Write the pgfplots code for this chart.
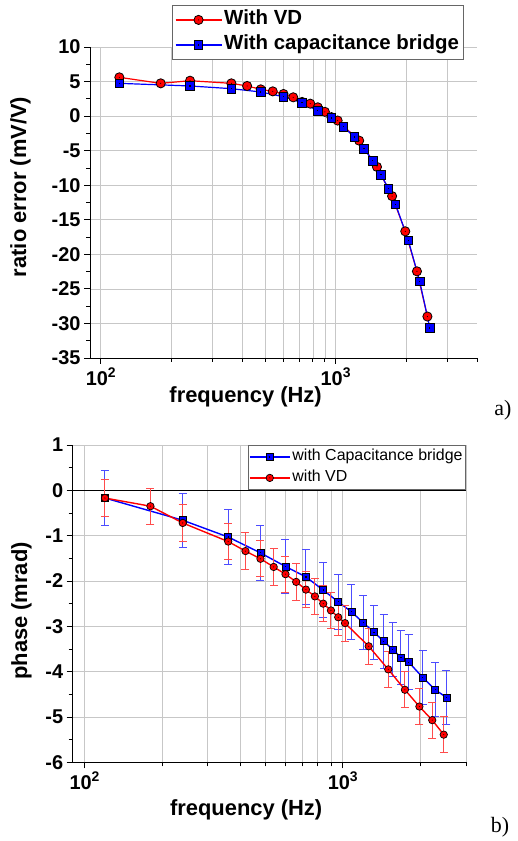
\documentclass[border=0pt]{standalone}
\usepackage{fontspec}
\setmainfont{Liberation Sans}
\newfontfamily\serif{Liberation Serif}
\usepackage{pgfplots}
\pgfplotsset{compat=1.18}

% Origin-style marks: filled shape with a small dark centre
\pgfdeclareplotmark{dcirc}{%
  \pgfpathcircle{\pgfpointorigin}{\pgfplotmarksize}\pgfusepathqfillstroke
  \pgfscope\pgfsetfillcolor{black}\pgfpathcircle{\pgfpointorigin}{0.55pt}\pgfusepathqfill\endpgfscope}
\pgfdeclareplotmark{dsq}{%
  \pgfpathrectangle{\pgfpoint{-\pgfplotmarksize}{-\pgfplotmarksize}}{\pgfpoint{2\pgfplotmarksize}{2\pgfplotmarksize}}\pgfusepathqfillstroke
  \pgfscope\pgfsetfillcolor{black}\pgfpathrectangle{\pgfpoint{-0.6pt}{-0.6pt}}{\pgfpoint{1.2pt}{1.2pt}}\pgfusepathqfill\endpgfscope}

\newcommand\tp[1]{10\raisebox{0.8ex}{\fontsize{14}{14}\selectfont #1}}

\pgfplotsset{
  originax/.style={
    scale only axis,
    axis x line*=bottom, axis y line*=left,
    tick align=outside, major tick length=6bp, minor tick length=4bp,
    axis line style={black, line width=0.8bp},
    tick style={black, line width=0.8bp},
    xmajorgrids, xminorgrids, ymajorgrids,
    major grid style={black!22, line width=0.7bp},
    minor grid style={black!22, line width=0.7bp},
    /pgf/number format/assume math mode=true,
    ticklabel style={font=\fontsize{20}{24}\selectfont\bfseries},
    label style={font=\fontsize{22}{26}\selectfont\bfseries},
    xtick={100,1000}, xticklabels={\tp{2},\tp{3}},
    minor xtick={200,300,400,500,600,700,800,900,2000,3000},
    legend cell align=left,
  },
}

\begin{document}
\begin{tikzpicture}
\path[use as bounding box] (0bp,0bp) rectangle (518bp,841bp);

% ---------------- a) ratio error ----------------
\begin{axis}[xmode=log, originax,
  at={(90bp,483bp)}, anchor=south west,
  width=387bp, height=311bp,
  xmin=90, xmax=4000, ymin=-35, ymax=10,
  ytick={-35,-30,...,10}, minor y tick num=1,
  extra x ticks={4000}, extra x tick labels={},
  extra x tick style={grid=none, major tick length=4bp},
  xlabel={frequency (Hz)}, ylabel={ratio error (mV/V)},
  xlabel style={at={(axis description cs:0.402,-0.124)}, anchor=center},
  ylabel style={at={(axis description cs:-0.18,0.55)}, anchor=center},
  legend style={at={(axis description cs:0.212,1.135)}, anchor=north west,
    draw=black!60, line width=0.8bp, fill=white,
    font=\fontsize{20.5}{22}\selectfont\bfseries, inner sep=2.5bp, row sep=1bp,
    nodes={text height=15bp, text depth=5bp, inner ysep=2bp}},
  legend image code/.code={\draw[mark repeat=2,mark phase=2,#1] plot coordinates {(0bp,0bp) (23bp,0bp) (46bp,0bp)};},
]
\addplot[red, line width=1.2bp, mark=dcirc, mark size=4.6bp,
  mark options={draw=black, fill=red, line width=0.8bp}] coordinates {
  (120,5.61) (180,4.74) (240,5.12) (360,4.74) (420,4.36) (480,3.87)
  (540,3.58) (600,3.20) (660,2.72) (720,2.05) (780,1.80) (840,1.27)
  (900,0.62) (960,-0.15) (1020,-0.64) (1260,-3.55) (1500,-7.35)
  (1740,-11.58) (1980,-16.67) (2220,-22.46) (2460,-29.00)};
\addlegendentry{With VD}
\addplot[blue, line width=1.2bp, mark=dsq, mark size=4.3bp,
  mark options={draw=black, fill=blue, line width=0.8bp}] coordinates {
  (120,4.74) (240,4.36) (360,3.97) (480,3.49) (600,2.81)
  (720,1.94) (840,0.78) (960,-0.27) (1080,-1.53) (1200,-3.02)
  (1320,-4.72) (1440,-6.45) (1560,-8.48) (1680,-10.50) (1800,-12.75)
  (2040,-17.97) (2280,-23.90) (2520,-30.66)};
\addlegendentry{With capacitance bridge}
\end{axis}

% ---------------- b) phase ----------------
\begin{axis}[xmode=log, originax,
  at={(72.7bp,78.7bp)}, anchor=south west,
  width=393.3bp, height=317.3bp,
  xmin=90, xmax=3000, ymin=-6, ymax=1,
  ytick={-6,-5,...,1}, minor y tick num=1,
  xlabel={frequency (Hz)}, ylabel={phase (mrad)},
  xlabel style={at={(axis description cs:0.441,-0.150)}, anchor=center},
  ylabel style={at={(axis description cs:-0.13,0.477)}, anchor=center},
  legend style={at={(axis description cs:1,1)}, anchor=north east,
    draw=black!60, line width=0.8bp, fill=white,
    font=\fontsize{16}{18}\selectfont, inner sep=1bp,
    nodes={text height=11.5bp, text depth=3.5bp, inner ysep=3bp}},
  legend image code/.code={\draw[mark repeat=2,mark phase=2,#1] plot coordinates {(0bp,0bp) (20bp,0bp) (40bp,0bp)};},
]
\addplot[black, line width=1bp, forget plot] coordinates {(90,0) (3000,0)};
\addplot[blue, line width=1.4bp, mark=dsq, mark size=3.5bp,
  mark options={draw=black, fill=blue, line width=0.7bp},
  error bars/.cd, y dir=both, y explicit,
  error bar style={blue!70, line width=1bp},
  error mark options={rotate=90, mark size=4bp, blue!70, line width=1bp}]
  coordinates {
  (120,-0.17) +- (0,0.6) (240,-0.66) +- (0,0.6) (360,-1.03) +- (0,0.6)
  (480,-1.38) +- (0,0.6) (600,-1.68) +- (0,0.6) (720,-1.91) +- (0,0.6)
  (840,-2.20) +- (0,0.6) (960,-2.46) +- (0,0.6) (1080,-2.68) +- (0,0.6)
  (1200,-2.92) +- (0,0.6) (1320,-3.13) +- (0,0.6) (1440,-3.33) +- (0,0.6)
  (1560,-3.51) +- (0,0.6) (1680,-3.69) +- (0,0.6) (1800,-3.79) +- (0,0.6)
  (2040,-4.13) +- (0,0.6) (2280,-4.40) +- (0,0.6) (2520,-4.57) +- (0,0.6)};
\addlegendentry{with Capacitance bridge}
\addplot[red, line width=1.4bp, mark=dcirc, mark size=3.7bp,
  mark options={draw=black, fill=red, line width=0.7bp},
  error bars/.cd, y dir=both, y explicit,
  error bar style={red!70, line width=1bp},
  error mark options={rotate=90, mark size=4bp, red!70, line width=1bp}]
  coordinates {
  (120,-0.17) +- (0,0.4) (180,-0.35) +- (0,0.4) (240,-0.72) +- (0,0.4)
  (360,-1.13) +- (0,0.4) (420,-1.34) +- (0,0.4) (480,-1.51) +- (0,0.4)
  (540,-1.69) +- (0,0.4) (600,-1.85) +- (0,0.4) (660,-2.02) +- (0,0.4)
  (720,-2.19) +- (0,0.4) (780,-2.34) +- (0,0.4) (840,-2.50) +- (0,0.4)
  (900,-2.65) +- (0,0.4) (960,-2.80) +- (0,0.4) (1020,-2.93) +- (0,0.4)
  (1260,-3.44) +- (0,0.4) (1500,-3.95) +- (0,0.4) (1740,-4.40) +- (0,0.4)
  (1980,-4.77) +- (0,0.4) (2220,-5.07) +- (0,0.4) (2460,-5.39) +- (0,0.4)};
\addlegendentry{with VD}
\end{axis}

\node[font=\serif\fontsize{22}{24}\selectfont] at (503bp,431bp) {a)};
\node[font=\serif\fontsize{22}{24}\selectfont] at (500bp,14bp) {b)};
\end{tikzpicture}
\end{document}
